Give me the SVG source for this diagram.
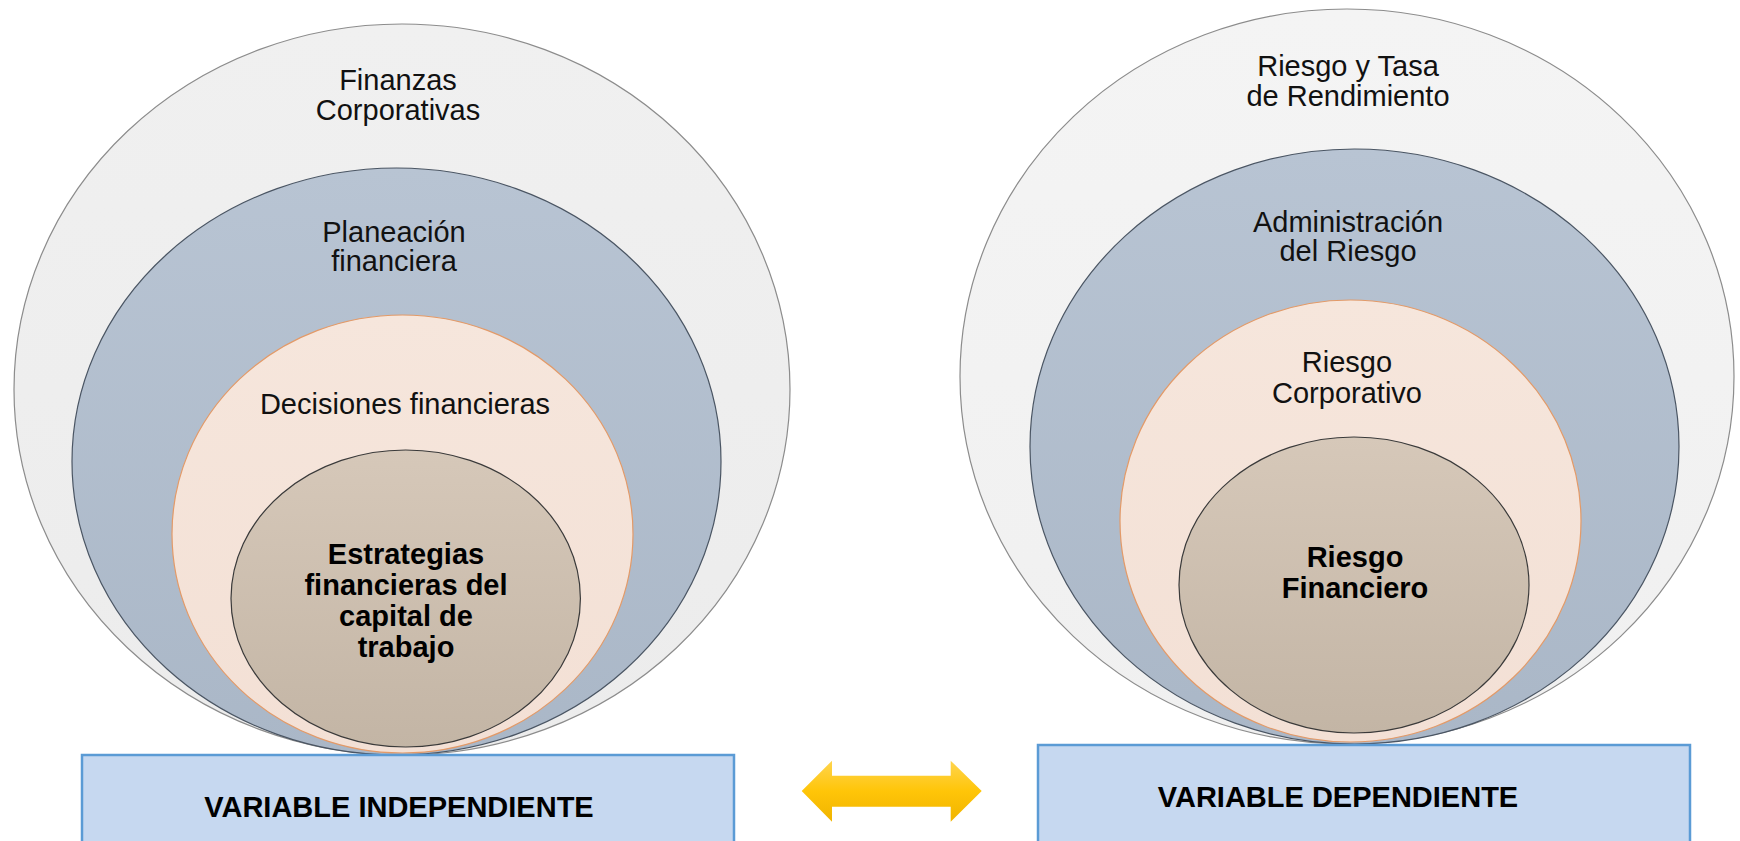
<svg xmlns="http://www.w3.org/2000/svg" width="1740" height="841" viewBox="0 0 1740 841">
<defs>
<linearGradient id="gOuterL" x1="0" y1="0" x2="0" y2="1"><stop offset="0" stop-color="#F0F0F0"/><stop offset="1" stop-color="#ECECEC"/></linearGradient>
<linearGradient id="gOuterR" x1="0" y1="0" x2="0" y2="1"><stop offset="0" stop-color="#F4F4F4"/><stop offset="1" stop-color="#F0F0F0"/></linearGradient>
<linearGradient id="gBlue" x1="0" y1="0" x2="0" y2="1"><stop offset="0" stop-color="#B8C4D3"/><stop offset="1" stop-color="#AAB7C7"/></linearGradient>
<linearGradient id="gPeach" x1="0" y1="0" x2="0" y2="1"><stop offset="0" stop-color="#F6E6DC"/><stop offset="1" stop-color="#F3E0D5"/></linearGradient>
<linearGradient id="gCore" x1="0" y1="0" x2="0" y2="1"><stop offset="0" stop-color="#D6C8B9"/><stop offset="1" stop-color="#C3B5A5"/></linearGradient>
<linearGradient id="gArrow" x1="0" y1="0" x2="0" y2="1"><stop offset="0" stop-color="#FFD54F"/><stop offset="0.5" stop-color="#FFC508"/><stop offset="1" stop-color="#F0B400"/></linearGradient>
</defs>
<style>
.outer{stroke:#8C8C8C;stroke-width:1.2}
.blue{fill:url(#gBlue);stroke:#4A5563;stroke-width:1.2}
.peach{fill:url(#gPeach);stroke:#E39A68;stroke-width:1.2}
.core{fill:url(#gCore);stroke:#3A3A3A;stroke-width:1.2}
.box{fill:#C6D8F0;stroke:#5B9BD5;stroke-width:2.5}
.t{font-family:"Liberation Sans",Arial,sans-serif;font-size:29px;fill:#111;text-anchor:middle}
.b{font-family:"Liberation Sans",Arial,sans-serif;font-size:29px;font-weight:bold;fill:#000;text-anchor:middle}
</style>

<g id="left-finanzas-corporativas">
<ellipse class="outer" fill="url(#gOuterL)" cx="402" cy="389.5" rx="388" ry="365.5"/>
<text class="t" x="398" y="90">Finanzas</text>
<text class="t" x="398" y="120">Corporativas</text>
</g>
<g id="left-planeacion">
<ellipse class="blue" cx="396.5" cy="461.5" rx="324.5" ry="293.5"/>
<text class="t" x="394" y="242">Planeación</text>
<text class="t" x="394" y="271">financiera</text>
</g>
<g id="left-decisiones">
<ellipse class="peach" cx="402.5" cy="534" rx="230.5" ry="219"/>
<text class="t" x="405" y="414">Decisiones financieras</text>
</g>
<g id="left-estrategias">
<ellipse class="core" cx="405.7" cy="598.5" rx="174.7" ry="148.5"/>
<text class="b" x="406" y="564">Estrategias</text>
<text class="b" x="406" y="595">financieras del</text>
<text class="b" x="406" y="626">capital de</text>
<text class="b" x="406" y="657">trabajo</text>
</g>
<g id="box-independiente">
<rect class="box" x="82" y="755" width="652" height="100"/>
<text class="b" x="399" y="817">VARIABLE INDEPENDIENTE</text>
</g>

<g id="right-riesgo-tasa">
<ellipse class="outer" fill="url(#gOuterR)" cx="1347" cy="376.5" rx="387" ry="367.5"/>
<text class="t" x="1348" y="76">Riesgo y Tasa</text>
<text class="t" x="1348" y="106">de Rendimiento</text>
</g>
<g id="right-administracion">
<ellipse class="blue" cx="1354.5" cy="446.5" rx="324.5" ry="297.5"/>
<text class="t" x="1348" y="232">Administración</text>
<text class="t" x="1348" y="261">del Riesgo</text>
</g>
<g id="right-corporativo">
<ellipse class="peach" cx="1350.5" cy="521" rx="230.5" ry="221"/>
<text class="t" x="1347" y="372">Riesgo</text>
<text class="t" x="1347" y="403">Corporativo</text>
</g>
<g id="right-financiero">
<ellipse class="core" cx="1354" cy="585" rx="175" ry="148"/>
<text class="b" x="1355" y="567">Riesgo</text>
<text class="b" x="1355" y="598">Financiero</text>
</g>
<g id="box-dependiente">
<rect class="box" x="1038" y="745" width="652" height="110"/>
<text class="b" x="1338" y="807">VARIABLE DEPENDIENTE</text>
</g>

<g id="connectors">
<polygon fill="url(#gArrow)" points="801.7,791 832,760.7 832,775.7 950.7,775.7 950.7,760.7 981.7,791 950.7,821.7 950.7,806.7 832,806.7 832,821.7"/>
</g>
</svg>
